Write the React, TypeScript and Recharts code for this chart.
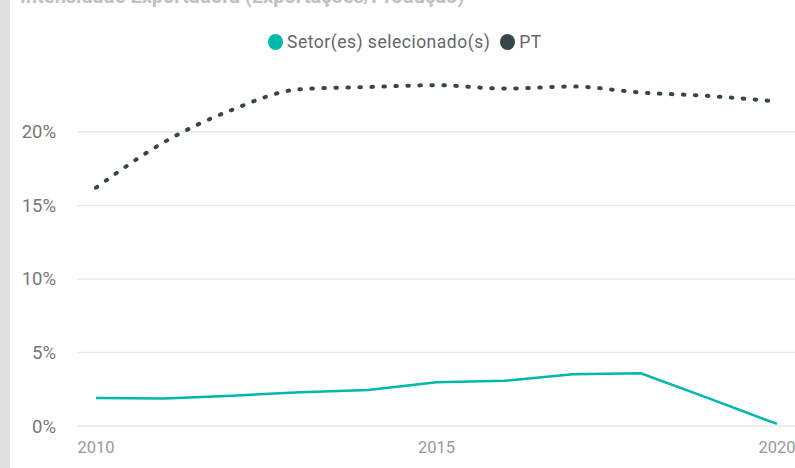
import { LineChart, Line, XAxis, YAxis, CartesianGrid } from 'recharts';

const years = [2010, 2011, 2012, 2013, 2014, 2015, 2016, 2017, 2018, 2019, 2020];
const setorValues = [1.9, 1.87, 2.06, 2.29, 2.45, 2.97, 3.08, 3.51, 3.58, 1.88, 0.14];
const ptValues = [16.2, 19.3, 21.5, 22.9, 23.05, 23.17, 22.94, 23.08, 22.67, 22.44, 22.06];
const yTicks = [0, 5, 10, 15, 20];
const xTicks = [2010, 2015, 2020];

const TEAL = '#01B8AA';
const DARK = '#374649';
const FONT = "Roboto, 'DejaVu Sans', sans-serif";

const data = years.map((year, i) => ({ year, setor: setorValues[i], pt: ptValues[i] }));

const legendItems = [
  { label: 'Setor(es) selecionado(s)', color: TEAL },
  { label: 'PT', color: DARK },
];

function ChartLegend() {
  return (
    <div style={{ position: 'absolute', left: 268, top: 33, display: 'flex', alignItems: 'center', fontFamily: FONT }}>
      {legendItems.map((it) => (
        <div key={it.label} style={{ display: 'flex', alignItems: 'center', marginRight: 10 }}>
          <span
            style={{
              display: 'inline-block',
              width: 15,
              height: 16,
              borderRadius: '50%',
              background: it.color,
              marginRight: 4,
            }}
          />
          <span style={{ fontSize: 17.5, color: '#666', lineHeight: '18px', letterSpacing: 0.5 }}>{it.label}</span>
        </div>
      ))}
    </div>
  );
}

export default function App() {
  return (
    <div style={{ position: 'absolute', left: 0, top: 0, width: 795, height: 468, background: '#fff', overflow: 'hidden', fontFamily: FONT }}>
      <div style={{ position: 'absolute', left: 0, top: 0, width: 10, height: 468, background: '#e0e0e0' }} />
      <div
        style={{
          position: 'absolute',
          left: 20,
          top: -16,
          fontSize: 20,
          fontWeight: 700,
          color: '#c0c0c0',
          whiteSpace: 'nowrap',
        }}
      >
        Intensidade Exportadora (Exportações/Produção)
      </div>
      <div style={{ position: 'absolute', left: 0, top: 0 }}>
        <LineChart width={795} height={468} data={data} margin={{ top: 73, right: 0, left: 0, bottom: 12 }}>
          <CartesianGrid vertical={false} stroke="#e8e8e8" strokeWidth={1.5} horizontalValues={yTicks} />
          <XAxis
            dataKey="year"
            type="number"
            domain={[2010, 2020]}
            ticks={xTicks}
            padding={{ left: 19, right: 18 }}
            axisLine={false}
            tickLine={false}
            tickSize={0}
            tickMargin={15}
            height={30}
            tick={{ fill: '#999', fontSize: 16.5, fontFamily: FONT }}
          />
          <YAxis
            type="number"
            domain={[0, 24]}
            ticks={yTicks}
            tickFormatter={(v) => `${v}%`}
            axisLine={false}
            tickLine={false}
            tickSize={0}
            tickMargin={21}
            width={77}
            tick={{ fill: '#777', fontSize: 18.5, fontFamily: FONT }}
          />
          <Line
            type="linear"
            dataKey="setor"
            name="Setor(es) selecionado(s)"
            stroke={TEAL}
            strokeWidth={2.5}
            dot={false}
            isAnimationActive={false}
          />
          <Line
            type="monotone"
            dataKey="pt"
            name="PT"
            stroke={DARK}
            strokeWidth={4}
            strokeDasharray="1.5 10.5"
            strokeLinecap="round"
            dot={false}
            isAnimationActive={false}
          />
        </LineChart>
      </div>
      <ChartLegend />
    </div>
  );
}
